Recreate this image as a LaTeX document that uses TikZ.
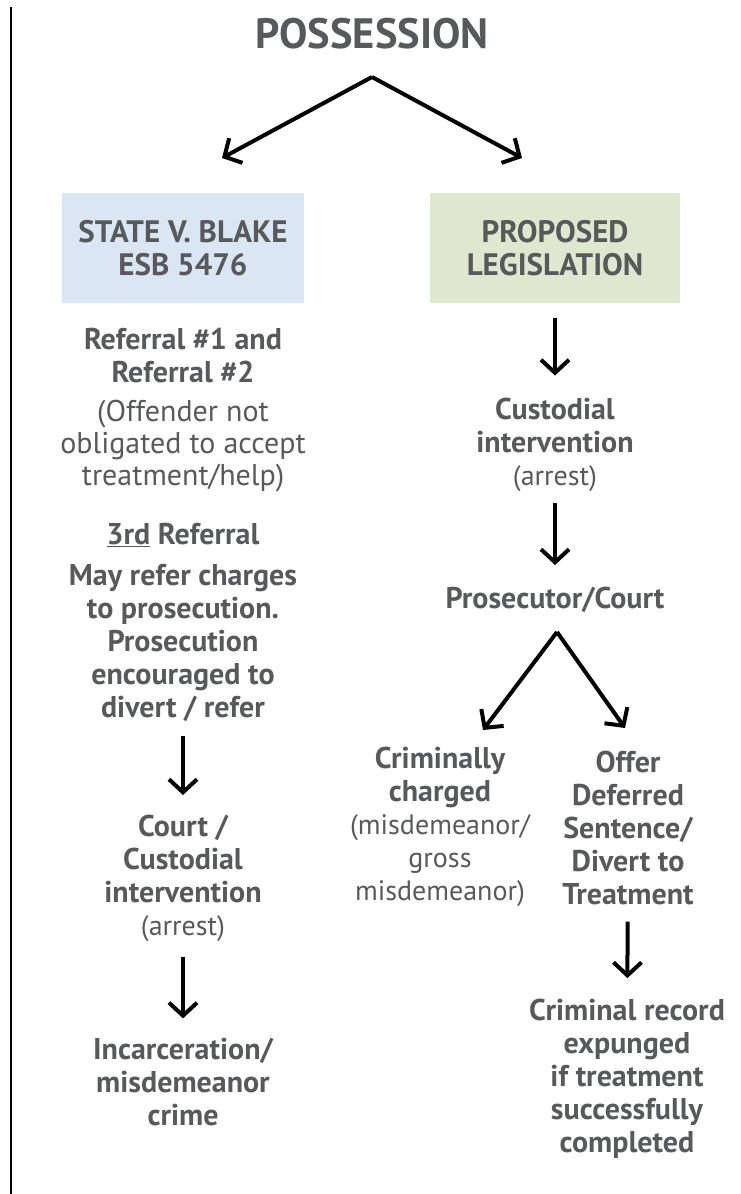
\documentclass[tikz,border=0pt]{standalone}
\usepackage{fontspec}
\setmainfont{PT Sans}
\usetikzlibrary{arrows.meta}
\definecolor{txt}{HTML}{58595B}
\definecolor{boxblue}{HTML}{DAE6F3}
\definecolor{boxgreen}{HTML}{DDE8CF}
\begin{document}
\begin{tikzpicture}[x=1pt,y=1pt,
  every node/.style={text=txt, align=center, inner sep=0pt},
  bodyb/.style={font=\fontsize{30}{33}\selectfont\bfseries},
  bodyrl/.style={font=\fontsize{30}{32}\selectfont},
  boxf/.style={font=\fontsize{31}{33}\selectfont\bfseries},
  titlef/.style={font=\fontsize{42.5}{45}\selectfont\bfseries},
  arr/.style={draw=black, line width=4pt, -{Straight Barb[length=13pt,width=28pt]}},
  ]
\useasboundingbox (0,0) rectangle (741,-1194);
\draw[line width=2pt] (11,-7) -- (11,-1194);

\node[titlef] (title) at (372,-34) {POSSESSION};

\node[fill=boxblue, minimum width=242pt, minimum height=110pt, boxf] (blake) at (183,-248) {STATE V. BLAKE\\ESB 5476};
\node[fill=boxgreen, minimum width=250pt, minimum height=110pt, boxf] (leg) at (555,-248) {PROPOSED\\LEGISLATION};

% left column
\node[bodyb] (ref12) at (183,-355.5) {Referral \#1 and\\Referral \#2};
\node[bodyrl] (offender) at (183,-446) {(Offender not\\obligated to accept\\treatment/help)};
\node[bodyb] (third) at (183,-535) {\underline{3rd} Referral};
\node[bodyb] (may) at (183,-642.5) {May refer charges\\to prosecution.\\Prosecution\\encouraged to\\divert / refer};
\node[bodyb] (court) at (183,-878.5) {Court /\\Custodial\\intervention\\{\fontsize{28}{33}\mdseries (arrest)}};
\node[bodyb] (incar) at (183,-1082.5) {Incarceration/\\misdemeanor\\crime};

% right column
\node[bodyb] (cust) at (555,-444.5) {Custodial\\intervention\\{\fontsize{28}{33}\mdseries (arrest)}};
\node[bodyb] (pros) at (555,-600) {Prosecutor/Court};
\node[bodyb] (crim) at (440,-827) {Criminally\\charged\\{\fontsize{28}{33}\mdseries (misdemeanor/}\\{\fontsize{28}{33}\mdseries gross}\\{\fontsize{28}{33}\mdseries misdemeanor)}};
\node[bodyb] (offer) at (628,-827.5) {Offer\\Deferred\\Sentence/\\Divert to\\Treatment};
\node[bodyb] (expunge) at (627,-1079) {Criminal record\\expunged\\if treatment\\successfully\\completed};

% fork coordinates
\coordinate (f1) at (372,-77);
\coordinate (f1l) at (222,-158);
\coordinate (f1r) at (522,-158);
\coordinate (f2) at (557,-632);
\coordinate (f2l) at (483,-730);
\coordinate (f2r) at (625,-728);

\draw[arr] (f1) -- (f1l);
\draw[arr] (f1) -- (f1r);
\draw[arr] (f2) -- (f2l);
\draw[arr] (f2) -- (f2r);

\draw[arr, shorten <=15pt, shorten >=22pt] (leg) -- (cust);
\draw[arr, shorten <=12pt, shorten >=22pt] (cust) -- (pros);
\draw[arr, shorten <=15pt, shorten >=20pt] (may) -- (court);
\draw[arr, shorten <=15pt, shorten >=20pt] (court) -- (incar);
\draw[arr, shorten <=17pt, shorten >=21pt] (offer) -- (expunge);
\end{tikzpicture}
\end{document}
